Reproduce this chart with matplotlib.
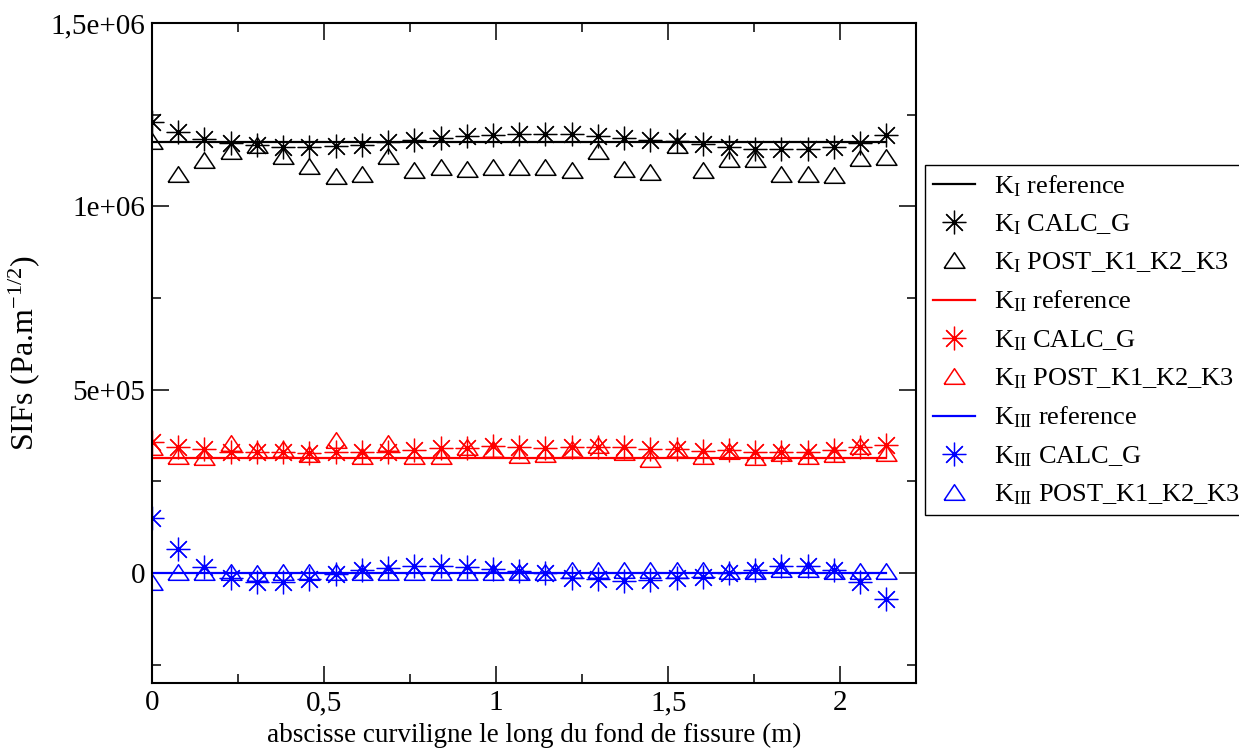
import matplotlib
matplotlib.use("Agg")
import matplotlib.pyplot as plt
from matplotlib.ticker import MultipleLocator, FuncFormatter
import numpy as np

plt.rcParams['font.family'] = ['Liberation Serif', 'DejaVu Serif']
plt.rcParams['mathtext.fontset'] = 'custom'
plt.rcParams['mathtext.rm'] = 'Liberation Serif'
plt.rcParams['mathtext.it'] = 'Liberation Serif:italic'

# abscissa along crack front (m), 29 nodes
s = np.linspace(0.0, 2.134, 29)

k1_ref = 1.175e6
k2_ref = 3.15e5
k3_ref = 0.0

k1_calc_g = [1.229e6, 1.202e6, 1.183e6, 1.172e6, 1.168e6, 1.161e6, 1.161e6, 1.165e6,
             1.167e6, 1.175e6, 1.181e6, 1.187e6, 1.192e6, 1.195e6, 1.197e6, 1.197e6,
             1.197e6, 1.193e6, 1.187e6, 1.181e6, 1.179e6, 1.169e6, 1.161e6, 1.156e6,
             1.155e6, 1.156e6, 1.163e6, 1.174e6, 1.195e6]
k1_post = [1.178e6, 1.088e6, 1.126e6, 1.150e6, 1.167e6, 1.137e6, 1.111e6, 1.083e6,
           1.087e6, 1.138e6, 1.099e6, 1.106e6, 1.101e6, 1.106e6, 1.107e6, 1.106e6,
           1.098e6, 1.152e6, 1.103e6, 1.094e6, 1.167e6, 1.098e6, 1.130e6, 1.128e6,
           1.087e6, 1.087e6, 1.085e6, 1.131e6, 1.134e6]

k2_calc_g = [3.56e5, 3.45e5, 3.37e5, 3.31e5, 3.29e5, 3.29e5, 3.26e5, 3.29e5,
             3.29e5, 3.31e5, 3.36e5, 3.40e5, 3.42e5, 3.46e5, 3.45e5, 3.40e5,
             3.45e5, 3.45e5, 3.43e5, 3.37e5, 3.37e5, 3.34e5, 3.36e5, 3.29e5,
             3.31e5, 3.29e5, 3.36e5, 3.45e5, 3.49e5]
k2_post = [3.45e5, 3.18e5, 3.16e5, 3.54e5, 3.35e5, 3.39e5, 3.24e5, 3.62e5,
           3.20e5, 3.55e5, 3.18e5, 3.18e5, 3.44e5, 3.38e5, 3.21e5, 3.25e5,
           3.38e5, 3.49e5, 3.31e5, 3.11e5, 3.38e5, 3.20e5, 3.34e5, 3.16e5,
           3.28e5, 3.19e5, 3.25e5, 3.47e5, 3.27e5]

k3_calc_g = [1.49e5, 6.5e4, 1.7e4, -1.3e4, -2.4e4, -2.4e4, -1.5e4, -3e3,
             8e3, 1.3e4, 2.0e4, 2.0e4, 1.55e4, 1.1e4, 6e3, 1e3,
             -1.3e4, -1.7e4, -2.2e4, -2.0e4, -1.3e4, -1.0e4, 0.0, 8e3,
             2.0e4, 2.0e4, 8e3, -2.4e4, -7.1e4]
k3_post = [-2.4e4, 3.5e3, 3.5e3, 2e3, 0.0, 2e3, 2e3, 2e3,
           2e3, 2e3, 3e3, 3e3, 3e3, 3e3, 3e3, 3e3,
           8e3, 8e3, 8e3, 8e3, 8e3, 8e3, 6e3, 5e3,
           1.2e4, 1.0e4, 5e3, 5e3, 5e3]

labels = [r'K$_{\mathrm{I}}$ reference', r'K$_{\mathrm{I}}$ CALC_G', r'K$_{\mathrm{I}}$ POST_K1_K2_K3',
          r'K$_{\mathrm{II}}$ reference', r'K$_{\mathrm{II}}$ CALC_G', r'K$_{\mathrm{II}}$ POST_K1_K2_K3',
          r'K$_{\mathrm{III}}$ reference', r'K$_{\mathrm{III}}$ CALC_G', r'K$_{\mathrm{III}}$ POST_K1_K2_K3']

tri = [(-1, -0.75), (1, -0.75), (0, 0.75), (-1, -0.75)]
star = (8, 2, 0)

fig = plt.figure(figsize=(12.39, 7.49), dpi=100)
ax = fig.add_axes([0.1227, 0.0881, 0.6166, 0.8812])

groups = [(k1_ref, k1_calc_g, k1_post, 'black'),
          (k2_ref, k2_calc_g, k2_post, 'red'),
          (k3_ref, k3_calc_g, k3_post, 'blue')]
handles = []
for ref, calc, post, c in groups:
    h1, = ax.plot([s[0], s[-1]], [ref, ref], color=c, lw=1.6)
    h2, = ax.plot(s, calc, ls='none', marker=star, ms=17, mec=c, mew=0.9)
    h3, = ax.plot(s, post, ls='none', marker=tri, ms=15, mfc='none', mec=c, mew=1.1)
    handles += [h1, h2, h3]

ax.set_xlim(0, 2.22)
ax.set_ylim(-3e5, 1.5e6)
ax.xaxis.set_major_locator(MultipleLocator(0.5))
ax.xaxis.set_minor_locator(MultipleLocator(0.25))
ax.yaxis.set_major_locator(MultipleLocator(5e5))
ax.yaxis.set_minor_locator(MultipleLocator(2.5e5))

ax.xaxis.set_major_formatter(FuncFormatter(lambda v, p: ('%g' % v).replace('.', ',')))
ax.yaxis.set_major_formatter(FuncFormatter(lambda v, p: '0' if v == 0 else ('%.2g' % v).replace('.', ',')))

ax.tick_params(which='both', direction='in', top=True, right=True, width=1.1, labelsize=21, pad=5)
ax.tick_params(which='major', length=12)
ax.tick_params(which='minor', length=6.5)
for sp in ax.spines.values():
    sp.set_linewidth(1.5)

ax.set_xlabel('abscisse curviligne le long du fond de fissure (m)', fontsize=19.5, labelpad=5)
ax.set_ylabel(r'SIFs (Pa.m$^{-1/2}$)', fontsize=23, labelpad=6)

leg = fig.legend(handles, labels, loc='upper left', bbox_to_anchor=(925 / 1239, 1 - 165 / 749),
                 fontsize=19, frameon=True, fancybox=False, edgecolor='black', framealpha=1,
                 borderaxespad=0, handlelength=1.6, labelspacing=0.52, borderpad=0.3,
                 handletextpad=0.7, markerscale=1.0)
leg.get_frame().set_linewidth(1.0)

fig.savefig('out.png', dpi=100)
